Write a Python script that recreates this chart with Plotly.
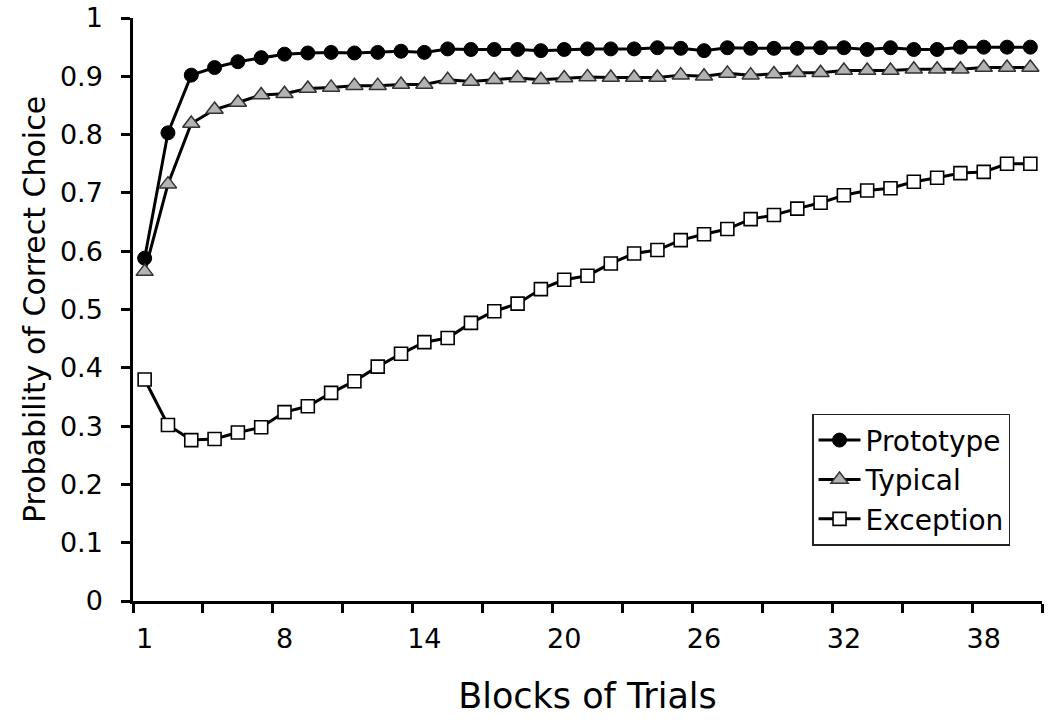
import plotly.graph_objects as go

blocks = list(range(1, 40))
prototype = [0.588, 0.803, 0.902, 0.915, 0.925, 0.932, 0.938, 0.940, 0.941, 0.940,
             0.941, 0.943, 0.941, 0.947, 0.946, 0.946, 0.946, 0.944, 0.946,
             0.947, 0.947, 0.947, 0.949, 0.948, 0.944, 0.949, 0.948, 0.948, 0.948,
             0.949, 0.949, 0.946, 0.949, 0.946, 0.946, 0.950, 0.950, 0.950, 0.950]
typical = [0.565, 0.715, 0.819, 0.843, 0.855, 0.868, 0.870, 0.879, 0.881, 0.884,
           0.884, 0.886, 0.886, 0.894, 0.891, 0.894, 0.897, 0.894, 0.897, 0.899,
           0.898, 0.898, 0.898, 0.902, 0.900, 0.905, 0.902, 0.904, 0.906, 0.906,
           0.910, 0.910, 0.910, 0.912, 0.912, 0.912, 0.915, 0.915, 0.915]
exception = [0.380, 0.302, 0.276, 0.278, 0.289, 0.298, 0.324, 0.334, 0.357, 0.377,
             0.402, 0.424, 0.444, 0.451, 0.477, 0.497, 0.510, 0.535, 0.551, 0.558,
             0.579, 0.596, 0.602, 0.619, 0.629, 0.638, 0.655, 0.662, 0.673, 0.683,
             0.696, 0.704, 0.708, 0.719, 0.726, 0.734, 0.736, 0.750, 0.750]

x_label_positions = [1, 7, 13, 19, 25, 31, 37]
x_label_text = ["1", "8", "14", "20", "26", "32", "38"]
y_ticks = [0, 0.1, 0.2, 0.3, 0.4, 0.5, 0.6, 0.7, 0.8, 0.9, 1]
y_tick_text = ["0", "0.1", "0.2", "0.3", "0.4", "0.5", "0.6", "0.7", "0.8", "0.9", "1"]

FONT = "DejaVu Sans"

fig = go.Figure()
fig.add_trace(go.Scatter(
    x=blocks, y=prototype, name="Prototype", mode="lines+markers",
    line=dict(color="black", width=3),
    marker=dict(symbol="circle", size=14, color="black", line=dict(color="black", width=1)),
))
fig.add_trace(go.Scatter(
    x=blocks, y=typical, name="Typical", mode="lines+markers",
    line=dict(color="black", width=3),
    marker=dict(symbol="triangle-up", size=15, color="#b3b3b3", line=dict(color="#333333", width=1.5)),
))
fig.add_trace(go.Scatter(
    x=blocks, y=exception, name="Exception", mode="lines+markers",
    line=dict(color="black", width=3),
    marker=dict(symbol="square", size=13, color="white", line=dict(color="black", width=1.6)),
))

fig.update_layout(
    width=1050, height=724,
    margin=dict(l=133, r=8, t=18, b=123),
    paper_bgcolor="white", plot_bgcolor="white",
    font=dict(family=FONT, color="black", size=27),
    legend=dict(
        x=0.747, y=0.321, xanchor="left", yanchor="top",
        bordercolor="#222222", borderwidth=1.5, bgcolor="white",
        font=dict(family=FONT, size=28, color="black"),
        tracegroupgap=0, itemwidth=42,
        entrywidth=186, entrywidthmode="pixels",
    ),
    showlegend=True,
)
fig.update_xaxes(
    range=[0.5, 39.5], automargin=False,
    tickmode="array", tickvals=x_label_positions, ticktext=x_label_text,
    ticks="", showgrid=False, zeroline=False,
    showline=True, linecolor="black", linewidth=2.5,
    tickfont=dict(family=FONT, size=27, color="black"),
    ticklabelstandoff=12,
    minor=dict(ticks="outside", tickmode="linear", tick0=0.5, dtick=3,
               ticklen=9, tickwidth=2.5, tickcolor="black", showgrid=False),
    title=dict(text="Blocks of Trials", font=dict(family=FONT, size=35, color="black"), standoff=31),
)
fig.update_yaxes(
    range=[0, 1], automargin=False,
    tickmode="array", tickvals=y_ticks, ticktext=y_tick_text,
    ticks="outside", ticklen=9, tickwidth=2.5, tickcolor="black",
    showgrid=False, zeroline=False,
    showline=True, linecolor="black", linewidth=2.5,
    tickfont=dict(family=FONT, size=27, color="black"),
    ticklabelstandoff=13,
    title=dict(text="Probability of Correct Choice", font=dict(family=FONT, size=30, color="black"), standoff=6),
)

# remove the browser's default 8px body margin so the figure fills the window exactly
fig.write_html("out.html", config={"displayModeBar": False},
               post_script="document.body.style.margin='0';")
